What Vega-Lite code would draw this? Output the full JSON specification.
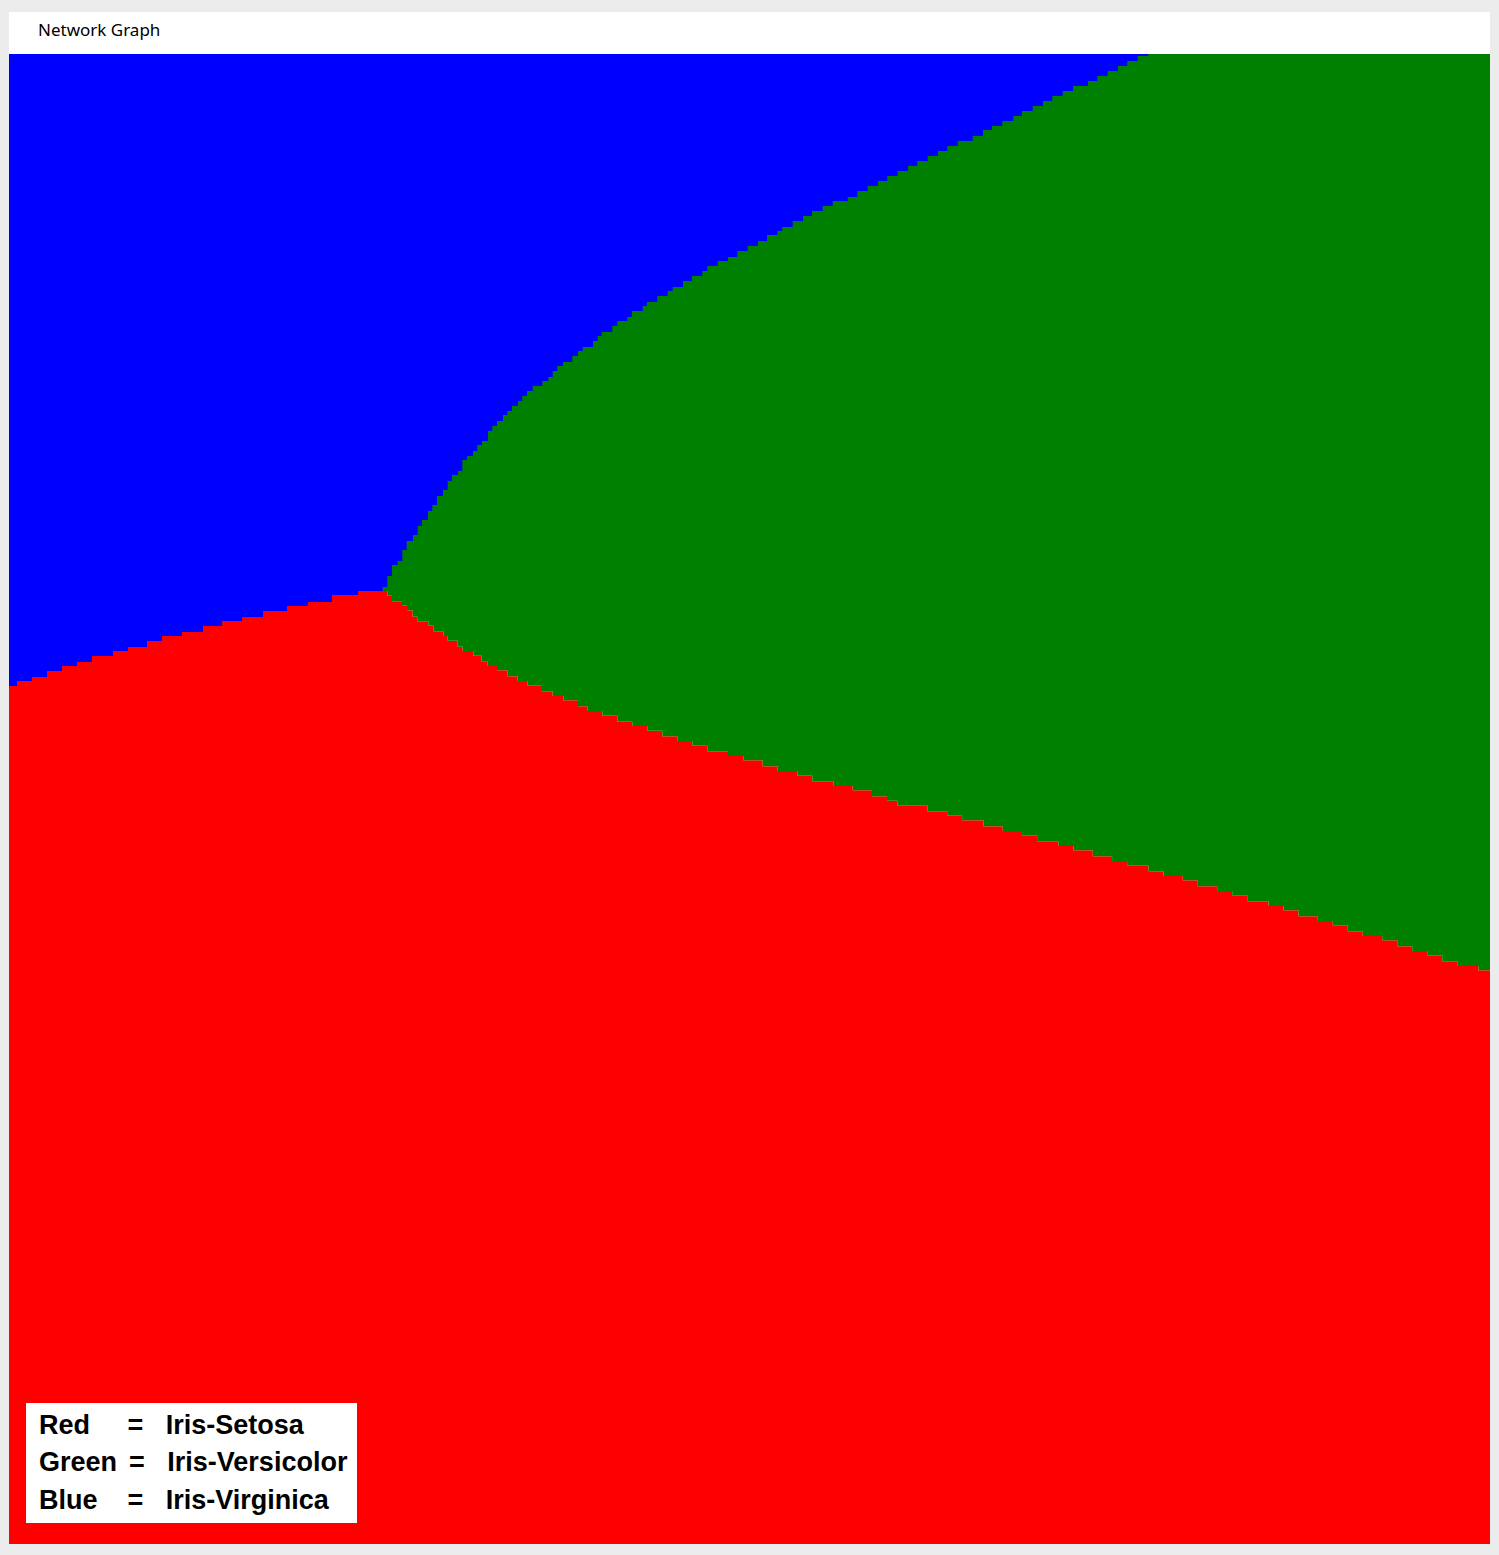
{
  "$schema": "https://vega.github.io/schema/vega-lite/v6.json",
  "width": 1481,
  "height": 1532,
  "autosize": {"type": "none"},
  "padding": {"left": 9, "top": 12, "right": 9, "bottom": 11},
  "background": "#ececec",
  "config": {"view": {"fill": "white", "stroke": null}},
  "title": {
    "text": "Network Graph",
    "anchor": "start",
    "frame": "group",
    "orient": "top",
    "offset": -41,
    "baseline": "alphabetic",
    "dx": 29,
    "font": "Noto Sans",
    "fontSize": 17,
    "fontWeight": "normal",
    "color": "#000000"
  },
  "data": {
    "values": [
      {"boundary": "lower", "x": 0, "y": 632}, {"boundary": "lower", "x": 8, "y": 627}, {"boundary": "lower", "x": 23, "y": 623}, {"boundary": "lower", "x": 38, "y": 617}, {"boundary": "lower", "x": 53, "y": 612}, {"boundary": "lower", "x": 68, "y": 608}, {"boundary": "lower", "x": 83, "y": 602}, {"boundary": "lower", "x": 104, "y": 597}, {"boundary": "lower", "x": 119, "y": 593}, {"boundary": "lower", "x": 138, "y": 587}, {"boundary": "lower", "x": 153, "y": 582}, {"boundary": "lower", "x": 173, "y": 578}, {"boundary": "lower", "x": 194, "y": 572}, {"boundary": "lower", "x": 213, "y": 567}, {"boundary": "lower", "x": 233, "y": 563}, {"boundary": "lower", "x": 254, "y": 557}, {"boundary": "lower", "x": 278, "y": 552}, {"boundary": "lower", "x": 299, "y": 548}, {"boundary": "lower", "x": 323, "y": 541}, {"boundary": "lower", "x": 349, "y": 537},
      {"boundary": "lower", "x": 378.3, "y": 541.7}, {"boundary": "lower", "x": 383, "y": 547.3}, {"boundary": "lower", "x": 393, "y": 551.7}, {"boundary": "lower", "x": 398, "y": 556.3}, {"boundary": "lower", "x": 403.7, "y": 562.7}, {"boundary": "lower", "x": 408.7, "y": 567.3}, {"boundary": "lower", "x": 419.3, "y": 571.7}, {"boundary": "lower", "x": 424.3, "y": 577.3}, {"boundary": "lower", "x": 434.3, "y": 582}, {"boundary": "lower", "x": 438.7, "y": 586.7}, {"boundary": "lower", "x": 448.7, "y": 592.7}, {"boundary": "lower", "x": 453.7, "y": 597}, {"boundary": "lower", "x": 464.3, "y": 601.7}, {"boundary": "lower", "x": 472.7, "y": 607.7}, {"boundary": "lower", "x": 478.7, "y": 612}, {"boundary": "lower", "x": 488, "y": 616.3}, {"boundary": "lower", "x": 498.7, "y": 622.3}, {"boundary": "lower", "x": 508.7, "y": 627}, {"boundary": "lower", "x": 518.7, "y": 631.7}, {"boundary": "lower", "x": 533, "y": 637.3}, {"boundary": "lower", "x": 543.7, "y": 642}, {"boundary": "lower", "x": 554.3, "y": 646.3}, {"boundary": "lower", "x": 569, "y": 652.3}, {"boundary": "lower", "x": 578.3, "y": 657}, {"boundary": "lower", "x": 593.3, "y": 661.7}, {"boundary": "lower", "x": 608.3, "y": 667.7}, {"boundary": "lower", "x": 623.3, "y": 672}, {"boundary": "lower", "x": 638.3, "y": 676.7}, {"boundary": "lower", "x": 653.3, "y": 682.3}, {"boundary": "lower", "x": 668.3, "y": 687}, {"boundary": "lower", "x": 683.3, "y": 691.7}, {"boundary": "lower", "x": 698.3, "y": 697.3}, {"boundary": "lower", "x": 719, "y": 702}, {"boundary": "lower", "x": 734.3, "y": 706.3}, {"boundary": "lower", "x": 753.7, "y": 712.3}, {"boundary": "lower", "x": 768.7, "y": 717}, {"boundary": "lower", "x": 788.3, "y": 721.7}, {"boundary": "lower", "x": 803.3, "y": 727.3}, {"boundary": "lower", "x": 824.3, "y": 732}, {"boundary": "lower", "x": 843.7, "y": 736.3}, {"boundary": "lower", "x": 863, "y": 742.3}, {"boundary": "lower", "x": 878, "y": 746.7}, {"boundary": "lower", "x": 888.4, "y": 751.3}, {"boundary": "lower", "x": 918.4, "y": 757.3}, {"boundary": "lower", "x": 938.1, "y": 761.7}, {"boundary": "lower", "x": 953.1, "y": 766.3}, {"boundary": "lower", "x": 974.4, "y": 772.3}, {"boundary": "lower", "x": 993.8, "y": 777}, {"boundary": "lower", "x": 1013.1, "y": 781.3}, {"boundary": "lower", "x": 1028.1, "y": 787.3}, {"boundary": "lower", "x": 1049.4, "y": 792}, {"boundary": "lower", "x": 1064.5, "y": 796.3}, {"boundary": "lower", "x": 1083.8, "y": 802.3}, {"boundary": "lower", "x": 1103.1, "y": 807}, {"boundary": "lower", "x": 1118.1, "y": 811.7}, {"boundary": "lower", "x": 1139.5, "y": 817.3}, {"boundary": "lower", "x": 1154.5, "y": 822}, {"boundary": "lower", "x": 1173.8, "y": 826.3}, {"boundary": "lower", "x": 1188.8, "y": 832.3}, {"boundary": "lower", "x": 1208.2, "y": 837}, {"boundary": "lower", "x": 1223.2, "y": 841.3}, {"boundary": "lower", "x": 1238.2, "y": 847.3}, {"boundary": "lower", "x": 1259.5, "y": 852}, {"boundary": "lower", "x": 1274.5, "y": 856.3}, {"boundary": "lower", "x": 1289.5, "y": 862.3}, {"boundary": "lower", "x": 1308.8, "y": 867}, {"boundary": "lower", "x": 1323.8, "y": 871.3}, {"boundary": "lower", "x": 1338.8, "y": 877.3}, {"boundary": "lower", "x": 1353.8, "y": 882}, {"boundary": "lower", "x": 1373.2, "y": 886.3}, {"boundary": "lower", "x": 1388.2, "y": 892.3}, {"boundary": "lower", "x": 1403.2, "y": 897}, {"boundary": "lower", "x": 1418.2, "y": 901.3}, {"boundary": "lower", "x": 1433.2, "y": 907.3}, {"boundary": "lower", "x": 1448.2, "y": 912}, {"boundary": "lower", "x": 1469.5, "y": 916.3}, {"boundary": "lower", "x": 1481, "y": 916.3},
      {"boundary": "upper", "x": 0, "y": 632}, {"boundary": "upper", "x": 8, "y": 627}, {"boundary": "upper", "x": 23, "y": 623}, {"boundary": "upper", "x": 38, "y": 617}, {"boundary": "upper", "x": 53, "y": 612}, {"boundary": "upper", "x": 68, "y": 608}, {"boundary": "upper", "x": 83, "y": 602}, {"boundary": "upper", "x": 104, "y": 597}, {"boundary": "upper", "x": 119, "y": 593}, {"boundary": "upper", "x": 138, "y": 587}, {"boundary": "upper", "x": 153, "y": 582}, {"boundary": "upper", "x": 173, "y": 578}, {"boundary": "upper", "x": 194, "y": 572}, {"boundary": "upper", "x": 213, "y": 567}, {"boundary": "upper", "x": 233, "y": 563}, {"boundary": "upper", "x": 254, "y": 557}, {"boundary": "upper", "x": 278, "y": 552}, {"boundary": "upper", "x": 299, "y": 548}, {"boundary": "upper", "x": 323, "y": 541}, {"boundary": "upper", "x": 349, "y": 537},
      {"boundary": "upper", "x": 373.7, "y": 533}, {"boundary": "upper", "x": 378.3, "y": 522}, {"boundary": "upper", "x": 383, "y": 511}, {"boundary": "upper", "x": 388.7, "y": 507}, {"boundary": "upper", "x": 393.3, "y": 496}, {"boundary": "upper", "x": 397.7, "y": 487}, {"boundary": "upper", "x": 404, "y": 481}, {"boundary": "upper", "x": 408.7, "y": 472}, {"boundary": "upper", "x": 413, "y": 466}, {"boundary": "upper", "x": 419, "y": 457}, {"boundary": "upper", "x": 423.3, "y": 451}, {"boundary": "upper", "x": 428, "y": 442}, {"boundary": "upper", "x": 434, "y": 436}, {"boundary": "upper", "x": 438.7, "y": 427}, {"boundary": "upper", "x": 443, "y": 421}, {"boundary": "upper", "x": 449, "y": 417}, {"boundary": "upper", "x": 453.3, "y": 406}, {"boundary": "upper", "x": 458, "y": 402}, {"boundary": "upper", "x": 464, "y": 397}, {"boundary": "upper", "x": 468.3, "y": 391}, {"boundary": "upper", "x": 473, "y": 387}, {"boundary": "upper", "x": 479, "y": 377}, {"boundary": "upper", "x": 483.3, "y": 372}, {"boundary": "upper", "x": 488, "y": 367}, {"boundary": "upper", "x": 494, "y": 361}, {"boundary": "upper", "x": 498.3, "y": 357}, {"boundary": "upper", "x": 503, "y": 352}, {"boundary": "upper", "x": 509, "y": 347}, {"boundary": "upper", "x": 513.3, "y": 342}, {"boundary": "upper", "x": 518, "y": 337}, {"boundary": "upper", "x": 523.7, "y": 332}, {"boundary": "upper", "x": 533.3, "y": 327}, {"boundary": "upper", "x": 539.3, "y": 323}, {"boundary": "upper", "x": 543.7, "y": 317}, {"boundary": "upper", "x": 548.3, "y": 312}, {"boundary": "upper", "x": 554, "y": 308}, {"boundary": "upper", "x": 563.3, "y": 302}, {"boundary": "upper", "x": 569, "y": 297}, {"boundary": "upper", "x": 573.7, "y": 293}, {"boundary": "upper", "x": 584, "y": 287}, {"boundary": "upper", "x": 588.7, "y": 282}, {"boundary": "upper", "x": 592.7, "y": 278}, {"boundary": "upper", "x": 603.3, "y": 272}, {"boundary": "upper", "x": 608.3, "y": 267}, {"boundary": "upper", "x": 618.3, "y": 263}, {"boundary": "upper", "x": 623, "y": 257}, {"boundary": "upper", "x": 633.7, "y": 252}, {"boundary": "upper", "x": 638, "y": 248}, {"boundary": "upper", "x": 648.3, "y": 242}, {"boundary": "upper", "x": 658.7, "y": 237}, {"boundary": "upper", "x": 663.7, "y": 233}, {"boundary": "upper", "x": 674, "y": 227}, {"boundary": "upper", "x": 683, "y": 222}, {"boundary": "upper", "x": 693.3, "y": 217}, {"boundary": "upper", "x": 698.3, "y": 212}, {"boundary": "upper", "x": 708.7, "y": 207}, {"boundary": "upper", "x": 719, "y": 203}, {"boundary": "upper", "x": 728.3, "y": 197}, {"boundary": "upper", "x": 738.7, "y": 192}, {"boundary": "upper", "x": 749, "y": 187}, {"boundary": "upper", "x": 758, "y": 181}, {"boundary": "upper", "x": 768.3, "y": 177}, {"boundary": "upper", "x": 773.3, "y": 173}, {"boundary": "upper", "x": 783.7, "y": 167}, {"boundary": "upper", "x": 794, "y": 162}, {"boundary": "upper", "x": 803, "y": 157}, {"boundary": "upper", "x": 813.7, "y": 152}, {"boundary": "upper", "x": 823.7, "y": 147}, {"boundary": "upper", "x": 838.7, "y": 143}, {"boundary": "upper", "x": 848.3, "y": 137}, {"boundary": "upper", "x": 858.7, "y": 132}, {"boundary": "upper", "x": 869, "y": 127}, {"boundary": "upper", "x": 878.3, "y": 122}, {"boundary": "upper", "x": 888.7, "y": 117}, {"boundary": "upper", "x": 899, "y": 112}, {"boundary": "upper", "x": 908.3, "y": 107}, {"boundary": "upper", "x": 918.7, "y": 102}, {"boundary": "upper", "x": 929, "y": 97}, {"boundary": "upper", "x": 938.3, "y": 92}, {"boundary": "upper", "x": 948.7, "y": 87}, {"boundary": "upper", "x": 963.7, "y": 82}, {"boundary": "upper", "x": 974, "y": 76}, {"boundary": "upper", "x": 983, "y": 72}, {"boundary": "upper", "x": 993.3, "y": 67}, {"boundary": "upper", "x": 1004.3, "y": 62}, {"boundary": "upper", "x": 1013, "y": 57}, {"boundary": "upper", "x": 1023.7, "y": 52}, {"boundary": "upper", "x": 1034, "y": 47}, {"boundary": "upper", "x": 1043.3, "y": 42}, {"boundary": "upper", "x": 1053.7, "y": 37}, {"boundary": "upper", "x": 1064, "y": 32}, {"boundary": "upper", "x": 1079, "y": 27}, {"boundary": "upper", "x": 1088.3, "y": 22}, {"boundary": "upper", "x": 1098.7, "y": 17}, {"boundary": "upper", "x": 1109, "y": 12}, {"boundary": "upper", "x": 1118.3, "y": 7}, {"boundary": "upper", "x": 1128.7, "y": 2}, {"boundary": "upper", "x": 1139.3, "y": 0}
    ]
  },
  "encoding": {
    "x": {"field": "x", "type": "quantitative", "axis": null, "scale": {"domain": [0, 1481], "nice": false, "zero": false}},
    "y": {"field": "y", "type": "quantitative", "axis": null, "scale": {"domain": [-42, 1490], "nice": false, "zero": false, "reverse": true}}
  },
  "layer": [
    {
      "transform": [{"filter": "datum.boundary == 'lower'"}],
      "mark": {"type": "area", "orient": "vertical", "interpolate": "step-after"},
      "encoding": {
        "y2": {"datum": 1490},
        "color": {
          "datum": "Iris-Setosa",
          "type": "nominal",
          "scale": {"domain": ["Iris-Setosa", "Iris-Versicolor", "Iris-Virginica"], "range": ["#ff0000", "#008000", "#0000ff"]},
          "legend": {
            "title": null,
            "orient": "none",
            "legendX": 17,
            "legendY": 1391,
            "direction": "vertical",
            "fillColor": "white",
            "padding": 9,
            "symbolSize": 0,
            "symbolOpacity": 0,
            "symbolStrokeWidth": 0,
            "labelOffset": -23,
            "labelFont": "Liberation Sans",
            "labelFontSize": 27,
            "labelFontWeight": "bold",
            "labelColor": "#000000",
            "labelBaseline": "middle",
            "labelLimit": 0,
            "rowPadding": 9.5,
            "labelExpr": "datum.label == 'Iris-Setosa' ? 'Red\u00a0\u00a0\u00a0\u00a0\u00a0=\u00a0\u00a0\u00a0Iris-Setosa' : datum.label == 'Iris-Versicolor' ? 'Green\u00a0\u2006=\u00a0\u00a0\u00a0Iris-Versicolor\u2005\u2006' : 'Blue\u00a0\u00a0\u00a0\u00a0=\u00a0\u00a0\u00a0Iris-Virginica'"
          }
        }
      }
    },
    {
      "transform": [{"filter": "datum.boundary == 'lower'"}],
      "mark": {"type": "area", "orient": "vertical", "interpolate": "step-after"},
      "encoding": {
        "y2": {"datum": 0},
        "color": {"datum": "Iris-Versicolor", "type": "nominal"}
      }
    },
    {
      "transform": [{"filter": "datum.boundary == 'upper'"}],
      "mark": {"type": "area", "orient": "vertical", "interpolate": "step-after"},
      "encoding": {
        "y2": {"datum": 0},
        "color": {"datum": "Iris-Virginica", "type": "nominal"}
      }
    }
  ]
}
